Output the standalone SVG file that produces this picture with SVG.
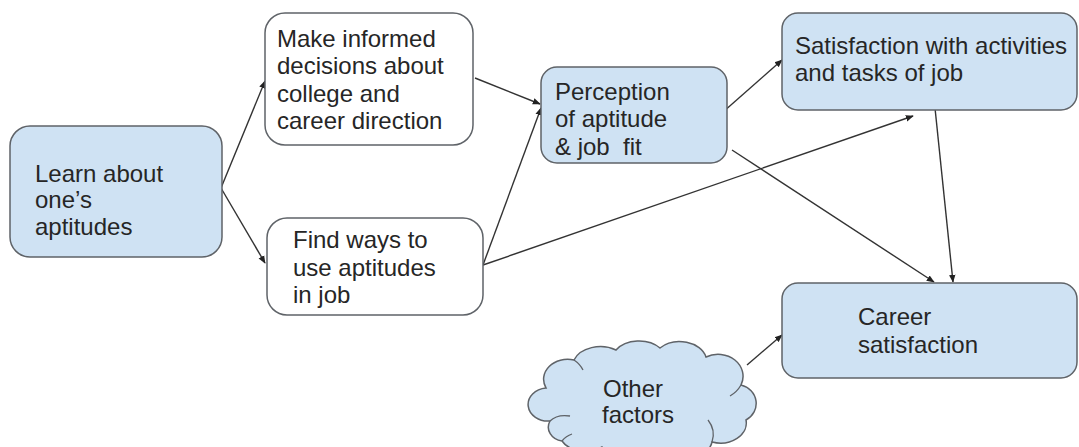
<svg xmlns="http://www.w3.org/2000/svg" width="1079" height="447" viewBox="0 0 1079 447">
<style>
.box{stroke:#5f6368;stroke-width:1.5}
.blue{fill:#cfe2f3}
.white{fill:#ffffff}
.t{font-family:"Liberation Sans",Arial,sans-serif;font-size:24px;fill:#262626;white-space:pre}
.c{stroke:#333;stroke-width:1.4;fill:none;marker-end:url(#ah)}
</style>
<defs>
<marker id="ah" viewBox="0 0 10 10" refX="9" refY="5" markerWidth="8" markerHeight="8" markerUnits="userSpaceOnUse" orient="auto">
<path d="M0,1 L10,5 L0,9 Z" fill="#222"/>
</marker>
</defs>
<rect width="1079" height="447" fill="#ffffff"/>
<g id="connectors">
<line class="c" x1="221" y1="188" x2="265" y2="81"/>
<line class="c" x1="221" y1="188" x2="265" y2="263"/>
<line class="c" x1="475" y1="78" x2="540" y2="104"/>
<line class="c" x1="483" y1="265" x2="541" y2="108"/>
<line class="c" x1="483" y1="265" x2="913" y2="116"/>
<line class="c" x1="723" y1="112" x2="782" y2="60"/>
<line class="c" x1="732" y1="150" x2="934" y2="282"/>
<line class="c" x1="935" y1="108" x2="953" y2="282"/>
<line class="c" x1="747" y1="365" x2="782" y2="335"/>
</g>
<g id="learn">
<rect class="box blue" x="10" y="126" width="212" height="131" rx="20"/>
<text class="t" x="35" y="182">Learn about</text>
<text class="t" x="35" y="208">one’s</text>
<text class="t" x="35" y="235">aptitudes</text>
</g>
<g id="decisions">
<rect class="box white" x="265" y="13" width="208" height="132" rx="20"/>
<text class="t" x="277" y="47">Make informed</text>
<text class="t" x="277" y="74">decisions about</text>
<text class="t" x="277" y="102">college and</text>
<text class="t" x="277" y="129">career direction</text>
</g>
<g id="findways">
<rect class="box white" x="267" y="218" width="216" height="97" rx="20"/>
<text class="t" x="293" y="248">Find ways to</text>
<text class="t" x="293" y="276">use aptitudes</text>
<text class="t" x="293" y="303">in job</text>
</g>
<g id="perception">
<rect class="box blue" x="541" y="67" width="186" height="96" rx="16"/>
<text class="t" x="555" y="100">Perception</text>
<text class="t" x="555" y="127">of aptitude</text>
<text class="t" x="555" y="155" xml:space="preserve">&amp; job  fit</text>
</g>
<g id="satisfaction-tasks">
<rect class="box blue" x="782" y="13" width="295" height="97" rx="16"/>
<text class="t" x="795" y="54">Satisfaction with activities</text>
<text class="t" x="795" y="81">and tasks of job</text>
</g>
<g id="career">
<rect class="box blue" x="782" y="283" width="295" height="95" rx="16"/>
<text class="t" x="858" y="325">Career</text>
<text class="t" x="858" y="353">satisfaction</text>
</g>
<g id="other">
<path class="box blue" d="M550,421 A18,15 0 0 1 546,388 A24,20 0 0 1 574,360 A28,20 0 0 1 616,350 A27,19 0 0 1 660,348 A27,20 0 0 1 706,357 A25,22 0 0 1 741,385 A20,19 0 0 1 746,420 A26,20 0 0 1 712,442 A30,20 0 0 1 656,449 A30,20 0 0 1 602,447 A26,18 0 0 1 562,441 A16,14 0 0 1 550,421 Z"/>
<path d="M550,421 Q557,414 570,416 M562,441 Q566,436 572,434 M712,442 Q716,430 708,420 M741,385 Q737,392 730,396 M574,360 Q580,364 583,370" fill="none" stroke="#5f6368" stroke-width="1.3"/>
<text class="t" x="603" y="397">Other</text>
<text class="t" x="602" y="423">factors</text>
</g>
</svg>
